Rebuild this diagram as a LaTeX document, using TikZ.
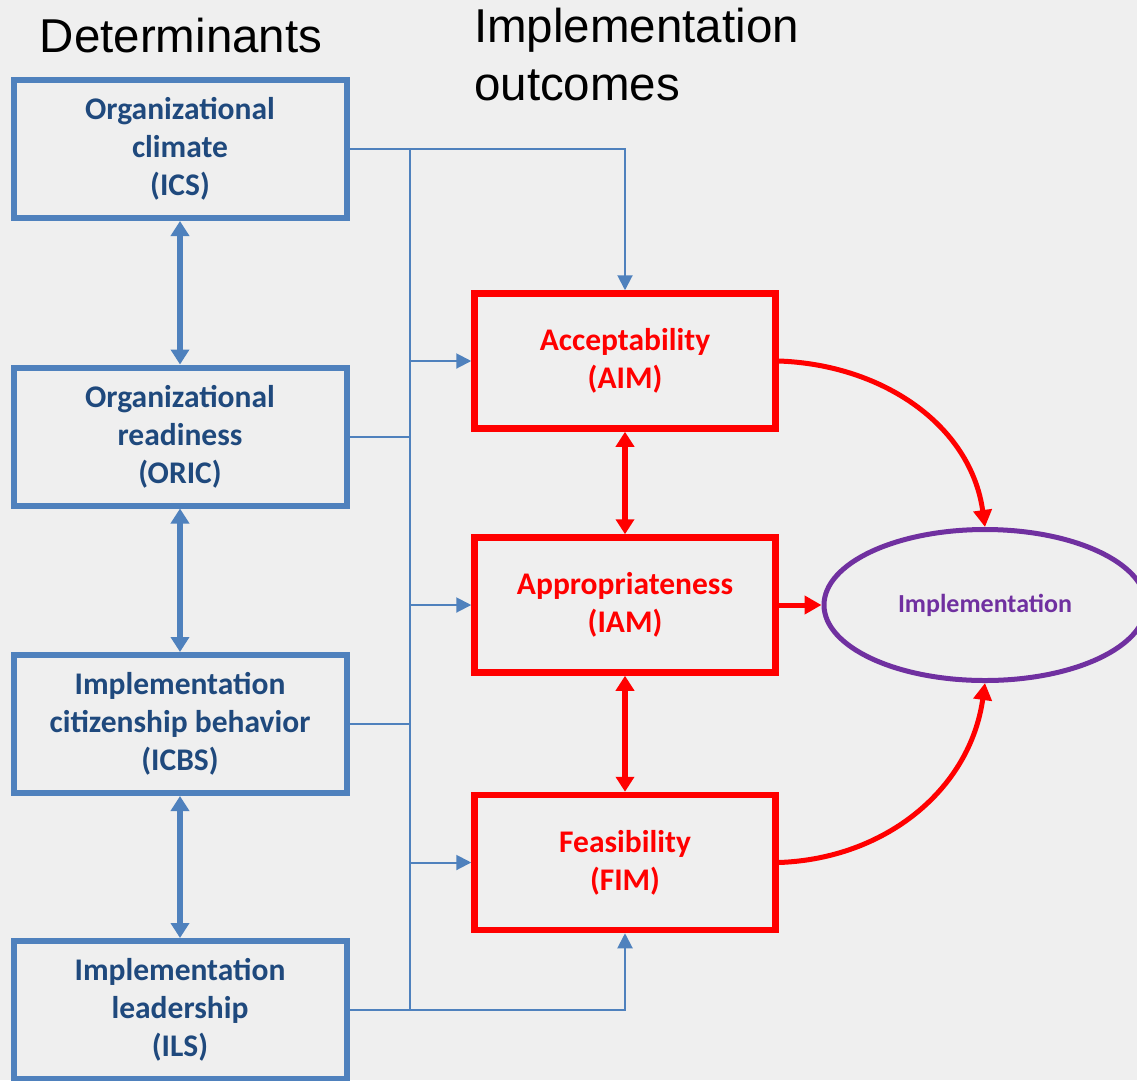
\documentclass[tikz,border=0pt]{standalone}
\usepackage{fontspec}
\setmainfont{Carlito}
\newfontfamily\headfont{Liberation Sans}
\usetikzlibrary{arrows.meta,shapes.geometric,positioning}
\definecolor{detblue}{RGB}{79,129,189}
\definecolor{dettext}{RGB}{31,73,125}
\definecolor{implpurple}{RGB}{112,48,160}
\definecolor{slidebg}{RGB}{239,239,239}
\tikzset{
  detbox/.style={draw=detblue, line width=6pt, minimum width=333pt, minimum height=138pt,
    inner sep=0pt, align=center, text=dettext, font=\fontsize{31.5}{38}\selectfont\bfseries},
  outbox/.style={draw=red, line width=6.5pt, minimum width=301pt, minimum height=135pt,
    inner sep=0pt, align=center, text=red, font=\fontsize{31.5}{38}\selectfont\bfseries},
  implnode/.style={ellipse, draw=implpurple, line width=5pt, minimum width=322pt, minimum height=151pt,
    inner sep=0pt, text=implpurple, font=\fontsize{26}{30}\selectfont\bfseries},
  headtext/.style={font=\headfont\fontsize{47.5}{58}\selectfont, inner sep=0pt},
  feed/.style={draw=detblue, line width=2pt},
  feedarrow/.style={feed, -{Triangle[length=15pt,width=15pt]}},
  detlink/.style={draw=detblue, line width=5.5pt, {Triangle[length=15pt,width=18pt]}-{Triangle[length=15pt,width=18pt]}},
  outlink/.style={draw=red, line width=6pt, {Triangle[length=15pt,width=18pt]}-{Triangle[length=15pt,width=18pt]}},
  implarrow/.style={draw=red, line width=5pt, -{Triangle[length=17pt,width=18pt]}}
}
\begin{document}
\begin{tikzpicture}[x=1pt,y=-1pt]
  \fill[slidebg] (0,0) rectangle (1137,1080);
  \useasboundingbox (0,0) rectangle (1137,1080);

  \node[headtext, anchor=base] (dethead) at (181,52) {Determinants};
  \node[headtext, anchor=base west] (outhead) at (474,42) {Implementation};
  \node[headtext, anchor=base west] (outhead2) at (474,100) {outcomes};

  \node[detbox] (ics) at (180,149) {Organizational\\climate\\(ICS)};
  \node[detbox] (oric) at (180,436.5) {Organizational\\readiness\\(ORIC)};
  \node[detbox] (icbs) at (180,724) {Implementation\\citizenship behavior\\(ICBS)};
  \node[detbox] (ils) at (180,1010) {Implementation\\leadership\\(ILS)};

  \node[outbox] (aim) at (625,361) {Acceptability\\(AIM)};
  \node[outbox] (iam) at (625,605) {Appropriateness\\(IAM)};
  \node[outbox] (fim) at (625,862.5) {Feasibility\\(FIM)};

  \node[implnode] (impl) at (985,605) {Implementation};

  \coordinate (bustop) at (410,149);
  \coordinate (busbot) at (410,1010);

  \draw[feed] (bustop) -- (busbot);
  \draw[feedarrow] (ics.east) -| (aim.north);
  \draw[feedarrow] (ils.east) -| (fim.south);
  \draw[feed] (oric.east) -- (oric.east -| bustop);
  \draw[feed] (icbs.east) -- (icbs.east -| bustop);
  \draw[feedarrow] (aim.west -| bustop) -- (aim.west);
  \draw[feedarrow] (iam.west -| bustop) -- (iam.west);
  \draw[feedarrow] (fim.west -| bustop) -- (fim.west);

  \draw[detlink] (ics) -- (oric);
  \draw[detlink] (oric) -- (icbs);
  \draw[detlink] (icbs) -- (ils);

  \draw[outlink] (aim) -- (iam);
  \draw[outlink] (iam) -- (fim);

  \draw[implarrow] (iam) -- (impl);
  \draw[implarrow] (aim.east) to[out=-2, in=98] (impl.north);
  \draw[implarrow] (fim.east) to[out=2, in=-98] (impl.south);
\end{tikzpicture}
\end{document}
